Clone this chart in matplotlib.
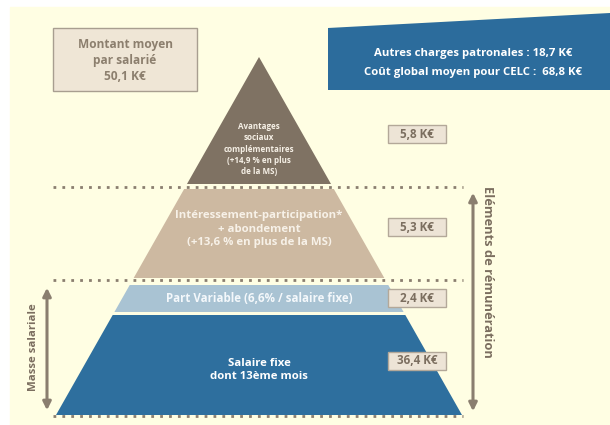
import matplotlib.pyplot as plt
from matplotlib.patches import Polygon, Rectangle

plt.rcParams['font.family'] = ['Open Sans', 'DejaVu Sans']

# data
layer_labels = ['Avantages\nsociaux\ncomplémentaires\n(+14,9 % en plus\nde la MS)',
                'Intéressement-participation*\n+ abondement\n(+13,6 % en plus de la MS)',
                'Part Variable (6,6% / salaire fixe)',
                'Salaire fixe\ndont 13ème mois']
layer_values = [5.8, 5.3, 2.4, 36.4]
total_mean = 50.1
other_charges = 18.7
global_cost = 68.8

# layout (pixel coords, y down)
layer_top = [57, 189, 285, 315]
layer_bot = [184, 278, 312, 415]
layer_colors = ['#7f7263', '#cdb9a1', '#a9c3d3', '#2e6f9e']
layer_text_colors = ['#f6f0e6', '#f7f1e8', '#f4f8fb', '#ffffff']
layer_fs = [5.8, 8.2, 8.3, 8.2]
label_y = [149, 229, 299, 370]
apex_x, apex_y, base_y, half_base = 259, 57, 415, 203
box_y = [134, 227, 298, 361]

bg = '#fffee3'
brown = '#8a7e6f'

def fmt(v):
    return ('%.1f' % v).replace('.', ',') + ' K€'

def half(y):
    return half_base * (y - apex_y) / (base_y - apex_y)

fig = plt.figure(figsize=(6.1, 4.25), dpi=100)
ax = fig.add_axes([0, 0, 1, 1])
ax.set_xlim(0, 610)
ax.set_ylim(425, 0)
ax.axis('off')
ax.add_patch(Rectangle((10, 7), 600, 418, color=bg, zorder=0))

# pyramid layers
for i in range(4):
    t, b = layer_top[i], layer_bot[i]
    pts = [(apex_x - half(t), t), (apex_x + half(t), t),
           (apex_x + half(b), b), (apex_x - half(b), b)]
    ax.add_patch(Polygon(pts, closed=True, color=layer_colors[i], zorder=2, lw=0))
    ax.text(apex_x, label_y[i], layer_labels[i], ha='center', va='center', color=layer_text_colors[i],
            fontsize=layer_fs[i], fontweight='bold', linespacing=1.3, zorder=3)

    # value box
    ax.add_patch(Rectangle((388, box_y[i] - 9), 58, 18, fc='#ede4d6', ec='#b3a899', lw=1, zorder=3))
    ax.text(417, box_y[i], fmt(layer_values[i]), ha='center', va='center', color='#7b6e5f',
            fontsize=8.4, fontweight='bold', zorder=4)

# dotted separators
for y in [187, 280, 416]:
    ax.plot([53, 463], [y, y], ls=(0, (1, 2.2)), lw=2, color=brown, zorder=3)

# arrows
ax.annotate('', xy=(473, 190), xytext=(473, 414),
            arrowprops=dict(arrowstyle='<|-|>', color=brown, lw=2.2, mutation_scale=12))
ax.annotate('', xy=(47, 285), xytext=(47, 413),
            arrowprops=dict(arrowstyle='<|-|>', color=brown, lw=2.2, mutation_scale=12))
ax.text(487, 272, 'Eléments de rémunération', rotation=-90, ha='center', va='center',
        color='#7b6e5f', fontsize=9.3, fontweight='bold')
ax.text(33, 347, 'Masse salariale', rotation=90, ha='center', va='center',
        color='#7b6e5f', fontsize=8.2, fontweight='bold')

# top-left box
ax.add_patch(Rectangle((53, 28), 144, 63, fc='#efe6d6', ec='#a89e90', lw=1, zorder=2))
ax.text(125, 60, 'Montant moyen\npar salarié\n' + fmt(total_mean), ha='center', va='center',
        color='#8c7f6e', fontsize=8.6, fontweight='bold', linespacing=1.3, zorder=3)

# top-right blue banner
ax.add_patch(Polygon([(328, 28), (610, 13), (610, 90), (328, 90)], closed=True,
                     color='#2c6c9c', zorder=2, lw=0))
ax.text(473, 53, 'Autres charges patronales : ' + fmt(other_charges), ha='center', va='center',
        color='white', fontsize=8.2, fontweight='bold', zorder=3)
ax.text(473, 72, 'Coût global moyen pour CELC :  ' + fmt(global_cost), ha='center', va='center',
        color='white', fontsize=8.2, fontweight='bold', zorder=3)

fig.savefig('out.png', dpi=100)
